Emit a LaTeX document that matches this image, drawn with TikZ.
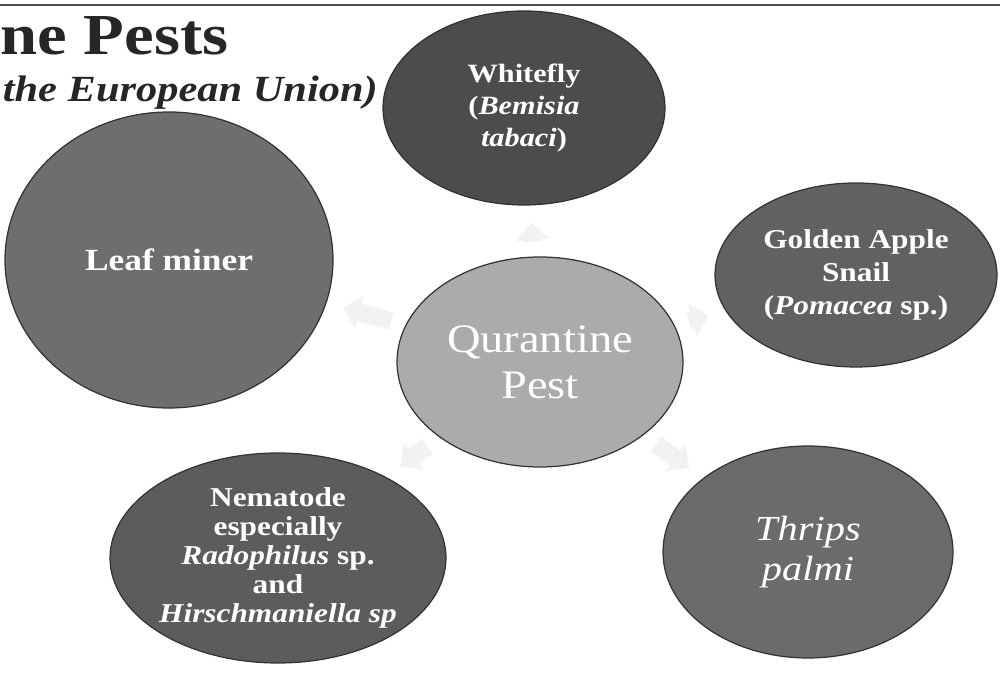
\documentclass[tikz,border=0pt]{standalone}
\usepackage{fontspec}
\setmainfont[FakeStretch=1.15]{Liberation Serif}
\usetikzlibrary{shapes.geometric,arrows.meta}
\begin{document}
\begin{tikzpicture}[>=latex, x=1cm, y=1cm]

\tikzstyle{pest}=[ellipse, draw=black!80, line width=0.7pt, inner sep=0pt, align=center, text=white, font=\fontsize{15}{17.5}\selectfont\bfseries]
\tikzstyle{spoke}=[-{Triangle[length=0.34cm, width=0.66cm]}, line width=0.36cm, draw=black!5, shorten <=0.3cm, shorten >=0.35cm]

\useasboundingbox (0,0) rectangle (20,13.48);

% --- slide header ---
\draw[line width=1.4pt, black!70] (0,13.38) -- (20,13.38);
\node[anchor=base west, inner sep=0pt, font=\fontsize{33}{36}\selectfont\bfseries, text=black!85] (title) at (0,12.38) {ne Pests};
\node[anchor=base west, inner sep=0pt, font=\fontsize{21}{24}\selectfont\itshape\bfseries, text=black!85] (subtitle) at (0.05,11.44) {the European Union)};

% --- centre ---
\node[pest, fill=black!33, minimum width=5.72cm, minimum height=4.2cm, font=\fontsize{23}{26}\selectfont] (hub) at (10.8,6.24) {Qurantine\\Pest};

% --- outer pests ---
\node[pest, fill=black!70, minimum width=5.64cm, minimum height=3.88cm, font=\fontsize{15}{18}\selectfont\bfseries] (whitefly) at (10.48,11.32) {Whitefly\\(\textit{Bemisia}\\\textit{tabaci})};
\node[pest, fill=black!57, minimum width=6.56cm, minimum height=5.92cm, font=\fontsize{17.5}{22}\selectfont\bfseries] (leaf) at (3.38,8.28) {Leaf miner};
\node[pest, fill=black!62, minimum width=5.64cm, minimum height=3.68cm, font=\fontsize{15.5}{19}\selectfont\bfseries] (snail) at (17.12,7.98) {Golden Apple\\Snail\\(\textit{Pomacea} sp.)};
\node[pest, fill=black!64, minimum width=6.6cm, minimum height=4.2cm, font=\fontsize{15.5}{16.6}\selectfont\bfseries] (nema) at (5.56,2.32) {Nematode\\especially\\\textit{Radophilus} sp.\\and\\\textit{Hirschmaniella sp}};
\node[pest, fill=black!58, minimum width=5.8cm, minimum height=4.24cm, font=\fontsize{20}{23}\selectfont\itshape] (thrips) at (16.16,2.44) {Thrips\\palmi};

% --- faint arrows out of the centre ---
\draw[spoke] (hub) -- (whitefly);
\draw[spoke] (hub) -- (leaf);
\draw[spoke] (hub) -- (snail);
\draw[spoke] (hub) -- (nema);
\draw[spoke] (hub) -- (thrips);

\end{tikzpicture}
\end{document}
